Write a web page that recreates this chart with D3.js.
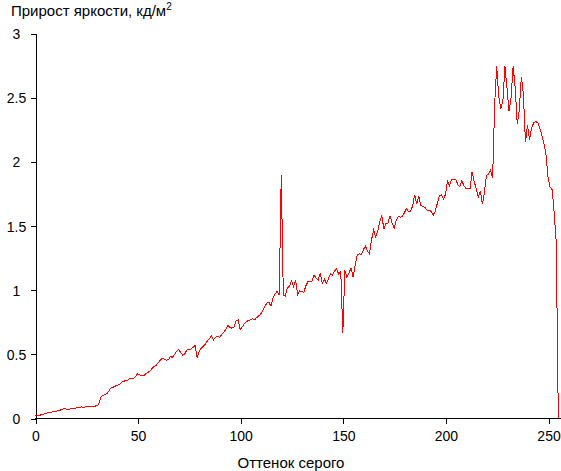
<!DOCTYPE html>
<html>
<head>
<meta charset="utf-8">
<script src="https://cdn.jsdelivr.net/npm/d3@7"></script>
<style>
  html, body { margin: 0; padding: 0; background: #fff; }
  svg { display: block; }
  text { font-family: "Liberation Sans", Arial, sans-serif; fill: #000; }
</style>
</head>
<body>
<svg id="chart" width="561" height="471"></svg>
<script>
// Gray level (0..255) — x categories
const grayLevels = d3.range(256);

// Brightness gain, cd/m^2 (one value per gray level)
const brightnessGain = [
  0.02, 0.02, 0.02, 0.025, 0.03, 0.035, 0.04, 0.042, 0.045, 0.05,
  0.052, 0.055, 0.06, 0.065, 0.072, 0.07, 0.062, 0.07, 0.075, 0.075,
  0.078, 0.08, 0.085, 0.086, 0.083, 0.09, 0.09, 0.09, 0.09, 0.092,
  0.095, 0.105, 0.16, 0.175, 0.18, 0.19, 0.21, 0.235, 0.24, 0.247,
  0.255, 0.26, 0.275, 0.285, 0.29, 0.292, 0.305, 0.31, 0.305, 0.325,
  0.345, 0.335, 0.33, 0.33, 0.345, 0.355, 0.365, 0.385, 0.40, 0.41,
  0.43, 0.45, 0.465, 0.46, 0.45, 0.455, 0.478, 0.473, 0.495, 0.52,
  0.535, 0.51, 0.49, 0.50, 0.53, 0.53, 0.538, 0.55, 0.564, 0.47,
  0.52, 0.545, 0.56, 0.575, 0.60, 0.62, 0.64, 0.61, 0.63, 0.635,
  0.63, 0.65, 0.67, 0.69, 0.72, 0.705, 0.70, 0.71, 0.755, 0.765,
  0.69, 0.71, 0.735, 0.75, 0.76, 0.765, 0.775, 0.765, 0.782, 0.795,
  0.81, 0.84, 0.87, 0.895, 0.90, 0.87, 0.935, 0.965, 0.99, 0.955,
  1.89, 0.96, 0.95, 1.015, 1.025, 1.067, 1.023, 1.075, 0.96, 0.99,
  0.984, 0.98, 1.03, 1.062, 1.062, 1.065, 1.114, 1.088, 1.075, 1.127,
  1.05, 1.083, 1.05, 1.085, 1.127, 1.114, 1.145, 1.161, 1.12, 1.14,
  0.665, 1.15, 1.096, 1.127, 1.17, 1.10, 1.19, 1.27, 1.28, 1.275,
  1.31, 1.34, 1.30, 1.28, 1.39, 1.465, 1.413, 1.452, 1.53, 1.58,
  1.47, 1.515, 1.52, 1.574, 1.52, 1.48, 1.54, 1.569, 1.565, 1.569,
  1.60, 1.631, 1.608, 1.608, 1.652, 1.74, 1.67, 1.73, 1.655, 1.65,
  1.642, 1.62, 1.62, 1.61, 1.58, 1.61, 1.67, 1.73, 1.74, 1.705,
  1.74, 1.845, 1.81, 1.86, 1.86, 1.86, 1.82, 1.80, 1.85, 1.81,
  1.79, 1.79, 1.785, 1.92, 1.84, 1.79, 1.72, 1.77, 1.665, 1.76,
  1.89, 1.90, 1.93, 1.87, 2.45, 2.74, 2.50, 2.41, 2.47, 2.74,
  2.57, 2.39, 2.50, 2.74, 2.57, 2.29, 2.40, 2.66, 2.52, 2.15,
  2.28, 2.17, 2.26, 2.30, 2.31, 2.30, 2.26, 2.20, 2.14, 2.05,
  1.88, 1.80, 1.78, 1.60, 1.37, 0
];

// Tick values and labels
const xTicks = [0, 50, 100, 150, 200, 250];
const yTicks = [0, 0.5, 1, 1.5, 2, 2.5, 3];
const yTickLabels = ["0", "0.5", "1", "1.5", "2", "2.5", "3"];

const yTitle = "Прирост яркости, кд/м";
const yTitleSup = "2";
const xTitle = "Оттенок серого";

(function () {
  const svg = d3.select("#chart");
  const W = 561;
  const mLeft = 35, mRight = 558.3, mTop = 33, mBottom = 418;

  const x = d3.scaleLinear().domain([0, 255]).range([mLeft, mRight]);
  const y = d3.scaleLinear().domain([0, 3]).range([mBottom, mTop]);

  // Left axis
  const yAxis = d3.axisLeft(y)
    .tickValues(yTicks)
    .tickSize(5)
    .tickSizeOuter(0)
    .tickFormat((d, i) => yTickLabels[i]);
  const gy = svg.append("g")
    .attr("transform", `translate(${mLeft + 0.5},0.5)`)
    .call(yAxis);
  gy.attr("font-family", null).attr("font-size", null);
  gy.selectAll("path.domain").attr("stroke", "#000").attr("shape-rendering", "crispEdges");
  gy.selectAll(".tick line").attr("stroke", "#000").attr("shape-rendering", "crispEdges");
  gy.selectAll(".tick text")
    .attr("x", -19)
    .attr("dy", "0.36em")
    .attr("text-anchor", "middle")
    .attr("font-size", 14);

  // Bottom axis
  const xAxis = d3.axisBottom(x)
    .tickValues(xTicks)
    .tickSize(5)
    .tickSizeOuter(0)
    .tickFormat(d3.format("d"));
  const gx = svg.append("g")
    .attr("transform", `translate(0.5,${mBottom + 0.5})`)
    .call(xAxis);
  gx.attr("font-family", null).attr("font-size", null);
  gx.select("path.domain").remove();
  gx.append("line")
    .attr("x1", mLeft - 0.5).attr("x2", W)
    .attr("y1", 0).attr("y2", 0)
    .attr("stroke", "#000")
    .attr("shape-rendering", "crispEdges");
  gx.selectAll(".tick line").attr("stroke", "#000").attr("shape-rendering", "crispEdges");
  gx.selectAll(".tick text")
    .attr("y", 13)
    .attr("font-size", 14);

  // Data line
  const line = d3.line()
    .x((d, i) => x(grayLevels[i]))
    .y(d => y(d));
  svg.append("path")
    .datum(brightnessGain)
    .attr("d", line)
    .attr("fill", "none")
    .attr("stroke", "#ff0000")
    .attr("stroke-width", 1)
    .attr("shape-rendering", "crispEdges");

  // Y title with superscript
  const yt = svg.append("text")
    .attr("x", 11)
    .attr("y", 16)
    .attr("font-size", 15)
    .text(yTitle);
  yt.append("tspan")
    .attr("dy", -6)
    .attr("font-size", 10)
    .text(yTitleSup);

  // X title
  svg.append("text")
    .attr("x", 291)
    .attr("y", 468)
    .attr("text-anchor", "middle")
    .attr("font-size", 15)
    .text(xTitle);
})();
</script>
</body>
</html>
